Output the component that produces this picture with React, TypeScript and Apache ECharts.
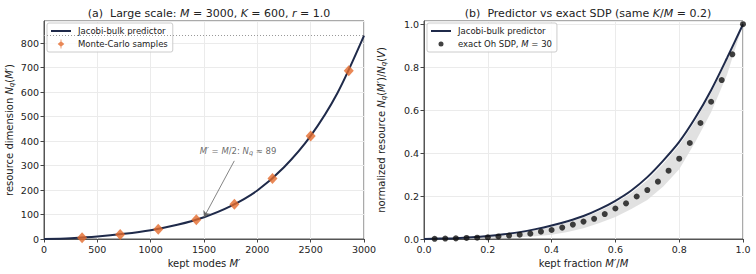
import React, { useEffect, useRef } from "react";
import * as echarts from "echarts";

// ---- Panel (a) data ----
const curveM = [0, 250, 500, 750, 1000, 1250, 1500, 1750, 2000, 2250, 2500, 2750, 3000];
const curveNq = [0, 3.5, 10, 21, 36, 58, 89, 134, 198, 293, 421, 595, 830];
const mcM = [357, 714, 1071, 1428, 1785, 2142, 2500, 2857];
const mcNq = [5, 18, 40, 79, 142, 247, 421, 687];
const nqV = 830;
const annotFrom = [1784, 319];
const annotTo = [1500, 89];
const annotText = [1819, 360];
const xTicksA = [0, 500, 1000, 1500, 2000, 2500, 3000];

// ---- Panel (b) data ----
const fracX = [0, 0.05, 0.1, 0.15, 0.2, 0.25, 0.3, 0.35, 0.4, 0.45, 0.5, 0.55, 0.6, 0.65, 0.7, 0.75, 0.8, 0.85, 0.9, 0.95, 1.0];
const predY = [0, 0.002, 0.004, 0.008, 0.014, 0.022, 0.032, 0.046, 0.063, 0.083, 0.107, 0.139, 0.178, 0.226, 0.288, 0.365, 0.452, 0.563, 0.693, 0.843, 1.0];
const bandUpper = [0, 0.0015, 0.003, 0.007, 0.012, 0.019, 0.029, 0.042, 0.058, 0.077, 0.1, 0.13, 0.168, 0.214, 0.274, 0.35, 0.437, 0.548, 0.68, 0.835, 1.0];
const bandLower = [0, 0.0005, 0.001, 0.002, 0.004, 0.006, 0.008, 0.013, 0.02, 0.033, 0.05, 0.074, 0.103, 0.14, 0.182, 0.245, 0.325, 0.45, 0.59, 0.765, 1.0];
const exactK = [1, 2, 3, 4, 5, 6, 7, 8, 9, 10, 11, 12, 13, 14, 15, 16, 17, 18, 19, 20, 21, 22, 23, 24, 25, 26, 27, 28, 29, 30];
const exactY = [0.001, 0.002, 0.003, 0.005, 0.006, 0.008, 0.012, 0.016, 0.02, 0.025, 0.034, 0.042, 0.053, 0.067, 0.081, 0.094, 0.116, 0.142, 0.166, 0.198, 0.228, 0.267, 0.318, 0.374, 0.447, 0.54, 0.639, 0.74, 0.86, 1.0];
const exactM = 30;

const FONT = "DejaVu Sans";
const NAVY = "#1f2a4a";
const ORANGE = "#e36a2c";

const italic = { fontStyle: "italic" as const };

const LINE_ICON = "path://M0,0 L0.01,0 Z M0,4 L20,4 L20,6 L0,6 Z M20,10 L19.99,10 Z";
const DIAMOND_ICON = "path://M0,0 L0.01,0 Z M9.6,0.5 L10.4,0.5 L10.4,2.5 L13.3,5 L10.4,7.5 L10.4,9.5 L9.6,9.5 L9.6,7.5 L6.7,5 L9.6,2.5 Z M20,10 L19.99,10 Z";
const DOT_ICON = "path://M0,0 L0.01,0 Z M7.5,5 A2.5,2.5 0 1 1 12.5,5 A2.5,2.5 0 1 1 7.5,5 Z M20,10 L19.99,10 Z";

export default function App() {
  const ref = useRef<HTMLDivElement>(null);
  useEffect(() => {
    if (!ref.current) return;
    const chart = echarts.init(ref.current, null, { renderer: "svg" });

    const axisCommon = {
      axisLine: { show: true, lineStyle: { color: "#555", width: 1 } },
      axisTick: { show: true, inside: false, length: 3.5, lineStyle: { color: "#444" } },
      splitLine: { show: true, lineStyle: { color: "#ebebeb", width: 1 } },
      axisLabel: { color: "#222", fontSize: 9.5, fontFamily: FONT, margin: 5, showMaxLabel: true },
      nameTextStyle: { color: "#222", fontSize: 10, fontFamily: FONT },
    };

    const subRich = {
      i: { ...italic },
      s: { fontSize: 7, fontStyle: "italic", verticalAlign: "bottom", padding: [5, 0, 0, 0] },
    };

    const legendCommon = {
      orient: "vertical",
      top: 23,
      padding: [3, 5, 3, 4],
      itemGap: 3,
      itemWidth: 20,
      itemHeight: 10,
      backgroundColor: "rgba(255,255,255,0.85)",
      borderColor: "#ccc",
      borderWidth: 1,
      borderRadius: 2,
    };

    const option: any = {
      animation: false,
      title: [
        {
          text: "(a)  Large scale: {i|M} = 3000, {i|K} = 600, {i|r} = 1.0",
          left: 204,
          top: 3,
          textAlign: "center",
          textStyle: { fontSize: 11, fontWeight: "normal", color: "#222", fontFamily: FONT, rich: { i: { fontSize: 11, fontStyle: "italic", color: "#222", fontFamily: FONT } } },
        },
        {
          text: "(b)  Predictor vs exact SDP (same {i|K}/{i|M} = 0.2)",
          left: 583,
          top: 3,
          textAlign: "center",
          textStyle: { fontSize: 11, fontWeight: "normal", color: "#222", fontFamily: FONT, rich: { i: { fontSize: 11, fontStyle: "italic", color: "#222", fontFamily: FONT } } },
        },
      ],
      grid: [
        { left: 44, top: 21, width: 320, height: 218, show: true, borderColor: "#555", borderWidth: 1, backgroundColor: "transparent", outerBoundsMode: "none" },
        { left: 424, top: 21, width: 319, height: 218, show: true, borderColor: "#555", borderWidth: 1, backgroundColor: "transparent", outerBoundsMode: "none" },
      ],
      legend: [
        {
          ...legendCommon,
          left: 47,
          textStyle: { fontSize: 8.5, color: "#222", fontFamily: FONT, padding: [0, 0, 0, 2] },
          data: [
            { name: "Jacobi-bulk predictor", icon: LINE_ICON, itemStyle: { color: NAVY } },
            { name: "Monte-Carlo samples", icon: DIAMOND_ICON, itemStyle: { color: ORANGE } },
          ],
        },
        {
          ...legendCommon,
          left: 427,
          textStyle: { fontSize: 8.5, color: "#222", fontFamily: FONT, padding: [0, 0, 0, 2], rich: { i: { fontSize: 8.5, fontStyle: "italic", color: "#222", fontFamily: FONT } } },
          formatter: (name: string) => (name.startsWith("exact") ? `exact Oh SDP, {i|M} = ${exactM}` : name),
          data: [
            { name: "Jacobi-bulk predictor ", icon: LINE_ICON, itemStyle: { color: NAVY } },
            { name: "exact Oh SDP", icon: DOT_ICON, itemStyle: { color: "#111" } },
          ],
        },
      ],
      xAxis: [
        {
          gridIndex: 0,
          type: "value",
          min: xTicksA[0],
          max: xTicksA[xTicksA.length - 1],
          interval: 500,
          name: "{n|kept modes }{i|M′}",
          nameLocation: "middle",
          nameGap: 17,
          ...axisCommon,
          axisLabel: { ...axisCommon.axisLabel, formatter: (v: number) => String(v) },
          nameTextStyle: { ...axisCommon.nameTextStyle, rich: { n: {}, i: italic } },
        },
        {
          gridIndex: 1,
          type: "value",
          min: 0,
          max: 1,
          interval: 0.2,
          name: "{n|kept fraction }{i|M′}/{i|M}",
          nameLocation: "middle",
          nameGap: 17,
          ...axisCommon,
          axisLabel: { ...axisCommon.axisLabel, formatter: (v: number) => v.toFixed(1) },
          nameTextStyle: { ...axisCommon.nameTextStyle, rich: { n: {}, i: italic } },
        },
      ],
      yAxis: [
        {
          gridIndex: 0,
          type: "value",
          min: 0,
          max: 890,
          interval: 100,
          name: "resource dimension {i|N}{s|q}({i|M′})",
          nameLocation: "middle",
          nameGap: 29,
          ...axisCommon,
          axisLabel: { ...axisCommon.axisLabel, showMaxLabel: false },
          nameTextStyle: { ...axisCommon.nameTextStyle, rich: subRich },
        },
        {
          gridIndex: 1,
          type: "value",
          min: 0,
          max: 1.015,
          interval: 0.2,
          name: "normalized resource {i|N}{s|q}({i|M′})/{i|N}{s|q}({i|V})",
          nameLocation: "middle",
          nameGap: 37,
          ...axisCommon,
          axisLabel: { ...axisCommon.axisLabel, showMaxLabel: false, formatter: (v: number) => v.toFixed(1) },
          nameTextStyle: { ...axisCommon.nameTextStyle, rich: subRich },
        },
      ],
      series: [
        {
          name: "Jacobi-bulk predictor",
          type: "line",
          xAxisIndex: 0,
          yAxisIndex: 0,
          data: curveM.map((m, i) => [m, curveNq[i]]),
          smooth: 0.3,
          symbol: "none",
          showSymbol: false,
          lineStyle: { color: NAVY, width: 2 },
          itemStyle: { color: NAVY },
          z: 3,
          markLine: {
            silent: true,
            symbol: ["none", "none"],
            label: { show: false },
            data: [
              { yAxis: nqV, lineStyle: { type: [1, 2], color: "#999", width: 1 } },
              [
                { coord: annotFrom, symbol: "none", lineStyle: { type: "solid", color: "#666", width: 0.8 } },
                { coord: annotTo, symbol: "arrow", symbolSize: 6 },
              ],
            ],
          },
        },
        {
          name: "Monte-Carlo samples",
          type: "scatter",
          xAxisIndex: 0,
          yAxisIndex: 0,
          data: mcM.map((m, i) => [m, mcNq[i]]),
          symbol: "diamond",
          symbolSize: [10, 11],
          itemStyle: { color: ORANGE },
          z: 4,
        },
        {
          name: "annotation",
          type: "scatter",
          xAxisIndex: 0,
          yAxisIndex: 0,
          data: [annotText],
          symbolSize: 0,
          silent: true,
          label: {
            show: true,
            position: "inside",
            formatter: "{i|M′} = {i|M}/2: {i|N}{s|q} ≈ 89",
            color: "#444",
            fontSize: 8.5,
            fontFamily: FONT,
            rich: {
              i: { fontStyle: "italic", color: "#444", fontSize: 8.5, fontFamily: FONT },
              s: { fontStyle: "italic", color: "#444", fontSize: 6.5, fontFamily: FONT, verticalAlign: "bottom", padding: [4, 0, 0, 0] },
            },
          },
        },
        {
          name: "band",
          type: "custom",
          xAxisIndex: 1,
          yAxisIndex: 1,
          silent: true,
          data: [[0, 0]],
          renderItem: (_params: any, api: any) => {
            const pts: number[][] = [];
            for (let i = 0; i < fracX.length; i++) pts.push(api.coord([fracX[i], bandUpper[i]]));
            for (let i = fracX.length - 1; i >= 0; i--) pts.push(api.coord([fracX[i], bandLower[i]]));
            return {
              type: "polygon",
              shape: { points: pts },
              style: { fill: "#dedede", opacity: 0.9 },
            };
          },
          z: 1,
        },
        {
          name: "Jacobi-bulk predictor ",
          type: "line",
          xAxisIndex: 1,
          yAxisIndex: 1,
          data: fracX.map((x, i) => [x, predY[i]]),
          smooth: 0.3,
          symbol: "none",
          showSymbol: false,
          lineStyle: { color: NAVY, width: 2 },
          itemStyle: { color: NAVY },
          z: 3,
        },
        {
          name: "exact Oh SDP",
          type: "scatter",
          xAxisIndex: 1,
          yAxisIndex: 1,
          data: exactK.map((k, i) => [k / exactM, exactY[i]]),
          symbol: "circle",
          symbolSize: 6,
          itemStyle: { color: "#111" },
          z: 4,
        },
      ],
    };

    chart.setOption(option);
    return () => chart.dispose();
  }, []);

  return <div ref={ref} style={{ position: "fixed", left: 0, top: 0, width: 756, height: 274, background: "#fff" }} />;
}
